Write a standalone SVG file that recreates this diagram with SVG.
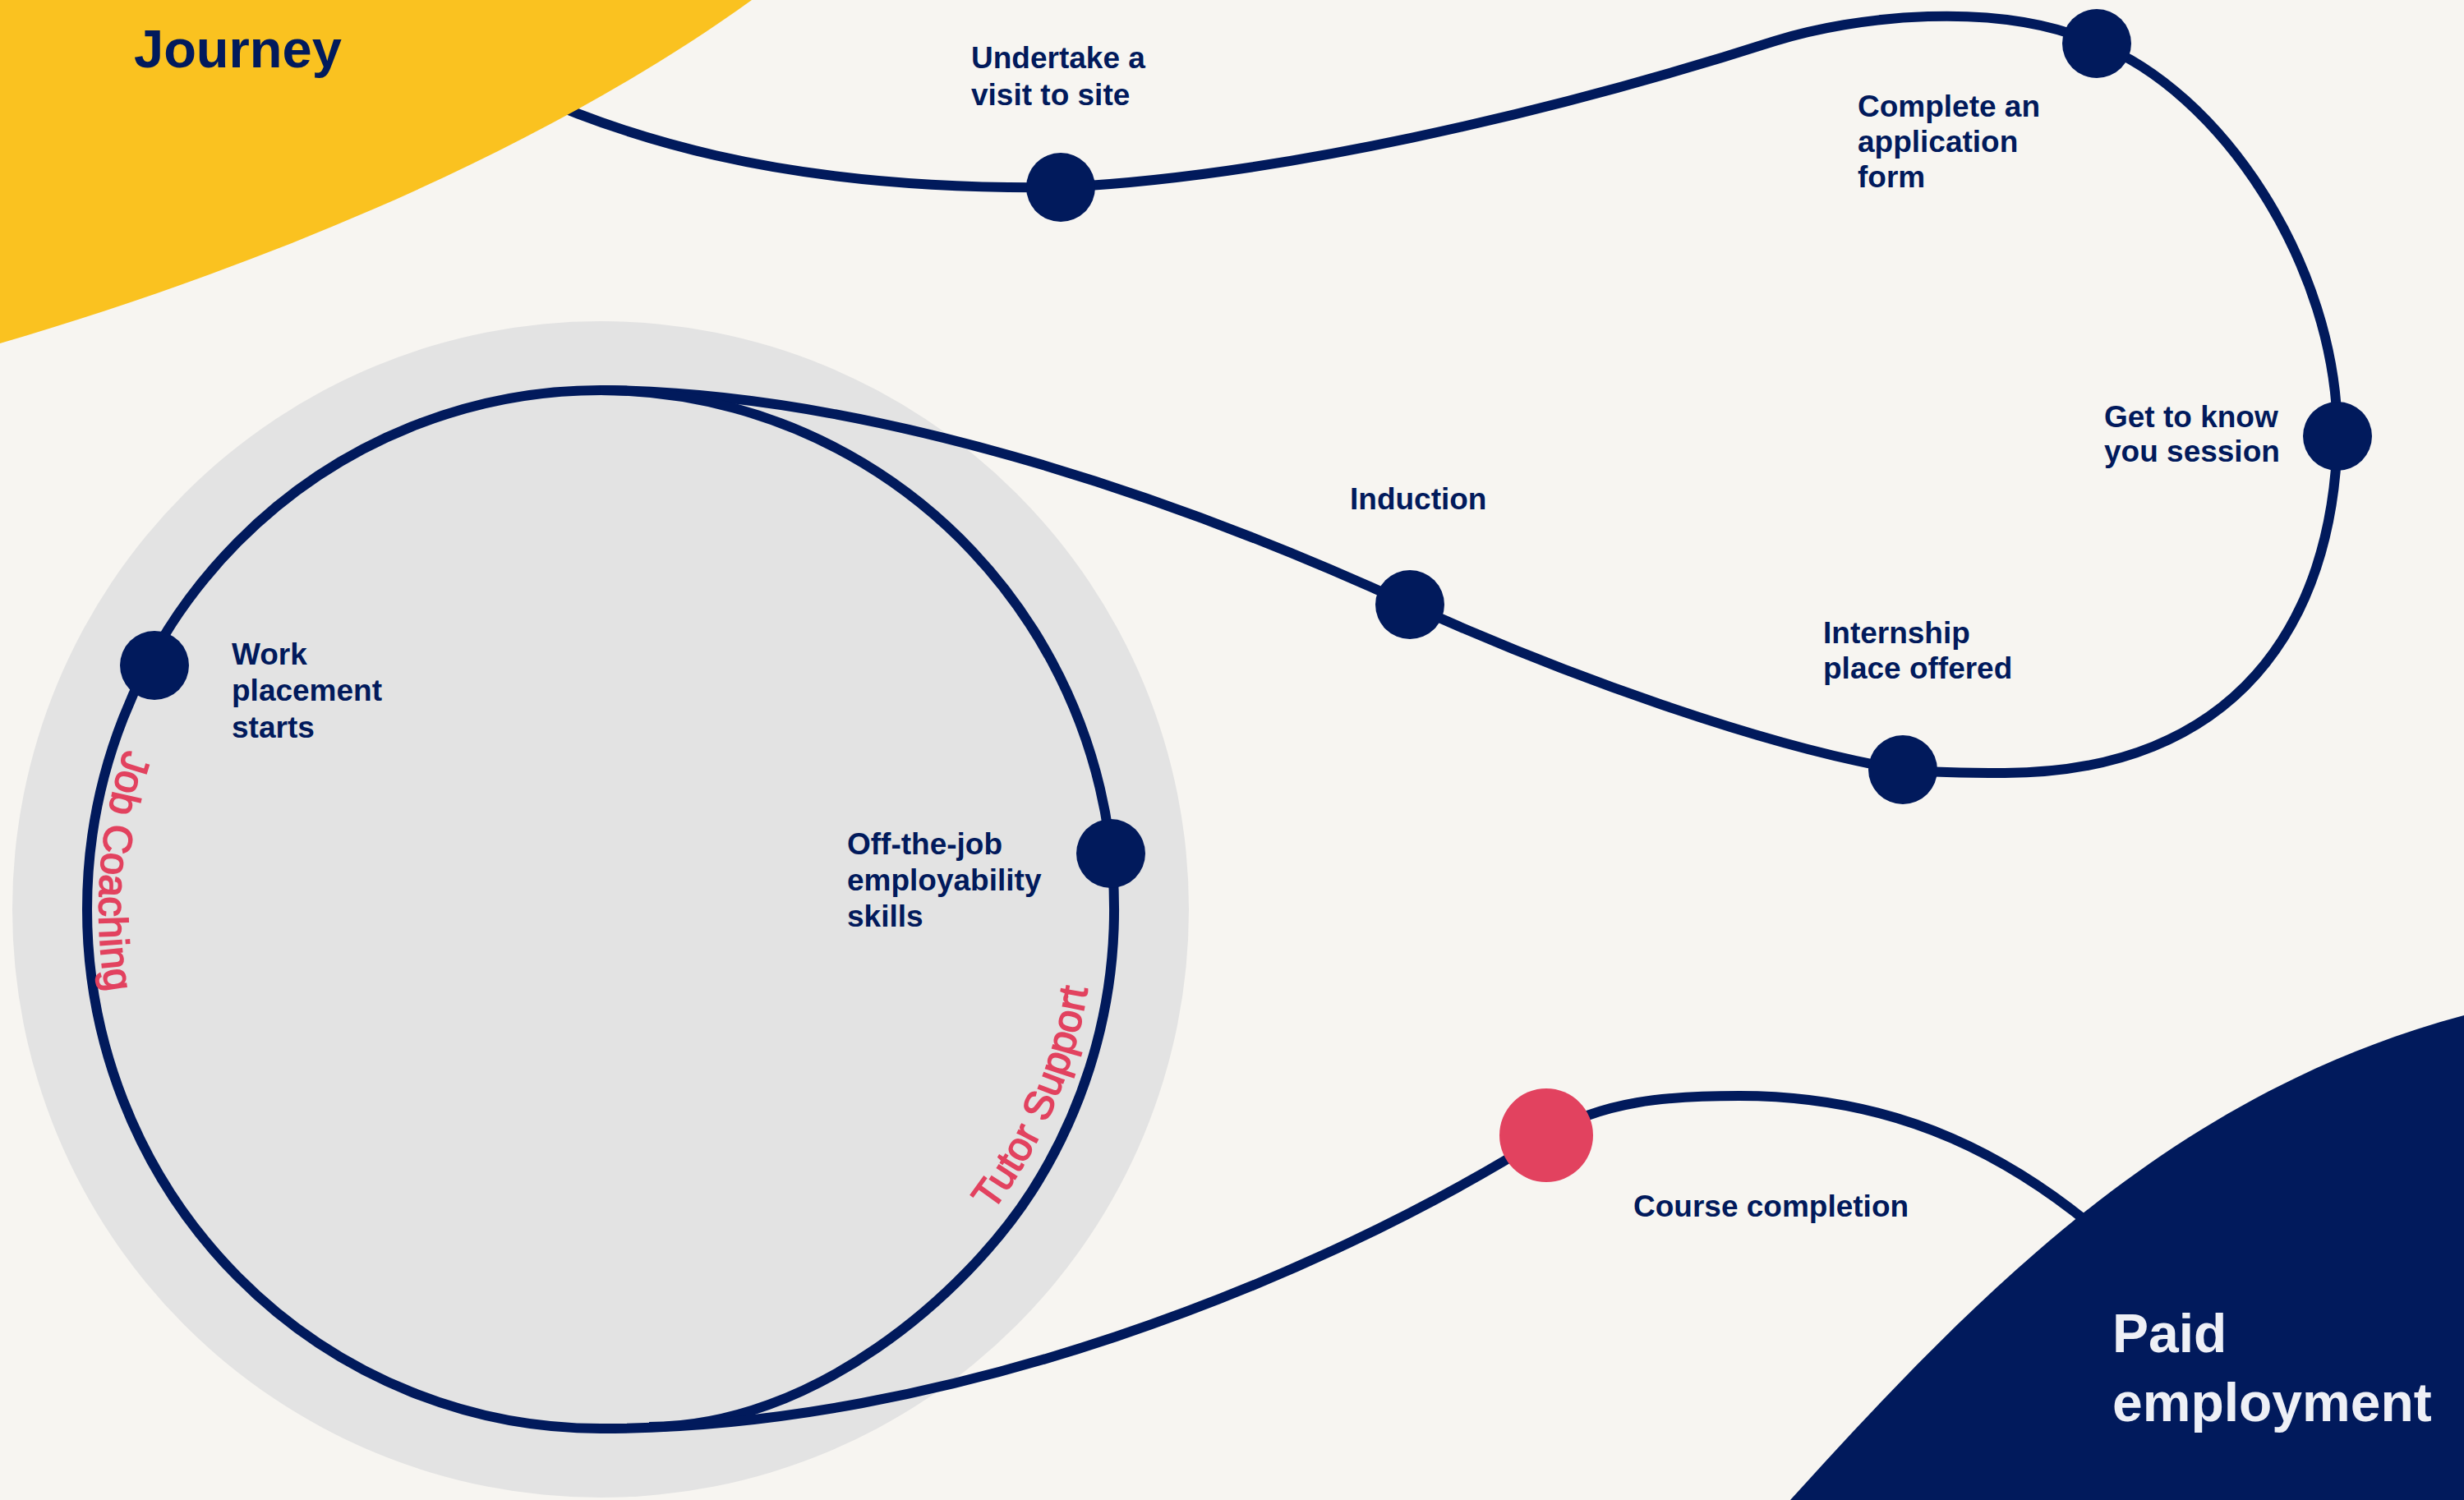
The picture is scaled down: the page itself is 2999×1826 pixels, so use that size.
<svg xmlns="http://www.w3.org/2000/svg" width="2999" height="1826" viewBox="0 0 2999 1826">
<style>
.track{fill:none;stroke:#011A5C;stroke-width:12}
.dot{fill:#011A5C}
.dot-red{fill:#E2425F}
.lbl{font-family:"Liberation Sans",Arial,sans-serif;font-weight:700;font-size:37px;fill:#011A5C}
.arc{font-family:"Liberation Sans",Arial,sans-serif;font-size:49px;fill:#E2425F;stroke:#E2425F;stroke-width:1.6}
.title{font-family:"Liberation Sans",Arial,sans-serif;font-weight:700;font-size:65px;fill:#011A5C}
.big{font-family:"Liberation Sans",Arial,sans-serif;font-weight:700;font-size:66px;fill:#EEF0F6}
</style>
<defs>
<path id="jobArc" d="M152,912 A610,616 0 0 0 194,1400"/>
<path id="tutorArc" d="M1208,1475 A600,607 0 0 0 1330,1150"/>
</defs>
<rect x="0" y="0" width="2999" height="1826" fill="#F7F5F1"/>
<circle id="loop-bg" cx="731" cy="1107" r="716" fill="#E3E3E3"/>

<g id="connectors">
<path class="track" d="M520,50 C740,180 980,232 1291,228"/>
<path class="track" d="M1291,228 C1550,215 1880,140 2160,50 C2255,20 2432,-1 2552,53"/>
<path class="track" d="M2552,53 C2700,110 2845,320 2845,531"/>
<path class="track" d="M2845,531 C2840,760 2720,940 2440,941 C2390,941 2350,940 2316,937"/>
<path class="track" d="M2316,937 C2150,910 1900,820 1716,736"/>
<path class="track" d="M1716,736 C1420,600 1050,477 731,475"/>
<path class="track" d="M731,475 A625,632 0 0 0 731,1739"/>
<path class="track" d="M731,475 A625,632 0 0 1 1256,1450 C1175,1576 990,1737 790,1737"/>
<path class="track" d="M731,1739 C1150,1739 1600,1560 1882,1382"/>
<path class="track" d="M1882,1382 C1950,1340 2030,1334 2117,1334 C2290,1334 2460,1390 2640,1580"/>
</g>

<g id="job-coaching"><text class="arc"><textPath href="#jobArc">Job Coaching</textPath></text></g>
<g id="tutor-support"><text class="arc"><textPath href="#tutorArc">Tutor Support</textPath></text></g>

<g id="node-visit">
<circle class="dot" cx="1291" cy="228" r="42"/>
<text class="lbl" x="1182" y="83">Undertake a</text>
<text class="lbl" x="1182" y="128">visit to site</text>
</g>
<g id="node-application">
<circle class="dot" cx="2552" cy="53" r="42"/>
<text class="lbl" x="2261" y="142">Complete an</text>
<text class="lbl" x="2261" y="185">application</text>
<text class="lbl" x="2261" y="228">form</text>
</g>
<g id="node-get-to-know">
<circle class="dot" cx="2845" cy="531" r="42"/>
<text class="lbl" x="2561" y="520">Get to know</text>
<text class="lbl" x="2561" y="562">you session</text>
</g>
<g id="node-internship">
<circle class="dot" cx="2316" cy="937" r="42"/>
<text class="lbl" x="2219" y="783">Internship</text>
<text class="lbl" x="2219" y="826">place offered</text>
</g>
<g id="node-induction">
<circle class="dot" cx="1716" cy="736" r="42"/>
<text class="lbl" x="1643" y="620">Induction</text>
</g>
<g id="node-work-placement">
<circle class="dot" cx="188" cy="810" r="42"/>
<text class="lbl" x="282" y="809">Work</text>
<text class="lbl" x="282" y="853">placement</text>
<text class="lbl" x="282" y="898">starts</text>
</g>
<g id="node-off-the-job">
<circle class="dot" cx="1352" cy="1039" r="42"/>
<text class="lbl" x="1031" y="1040">Off-the-job</text>
<text class="lbl" x="1031" y="1084">employability</text>
<text class="lbl" x="1031" y="1128">skills</text>
</g>
<g id="node-course-completion">
<circle class="dot-red" cx="1882" cy="1382" r="57"/>
<text class="lbl" x="1988" y="1481">Course completion</text>
</g>

<g id="start">
<path d="M0,0 L915,0 C656,187 307,328 0,418 Z" fill="#FAC220"/>
<text class="title" x="163" y="82">Journey</text>
</g>

<g id="paid-employment">
<path d="M2999,1236 C2650,1330 2420,1560 2179,1826 L2999,1826 Z" fill="#011A5C"/>
<text class="big" x="2571" y="1646">Paid</text>
<text class="big" x="2571" y="1730">employment</text>
</g>
</svg>
